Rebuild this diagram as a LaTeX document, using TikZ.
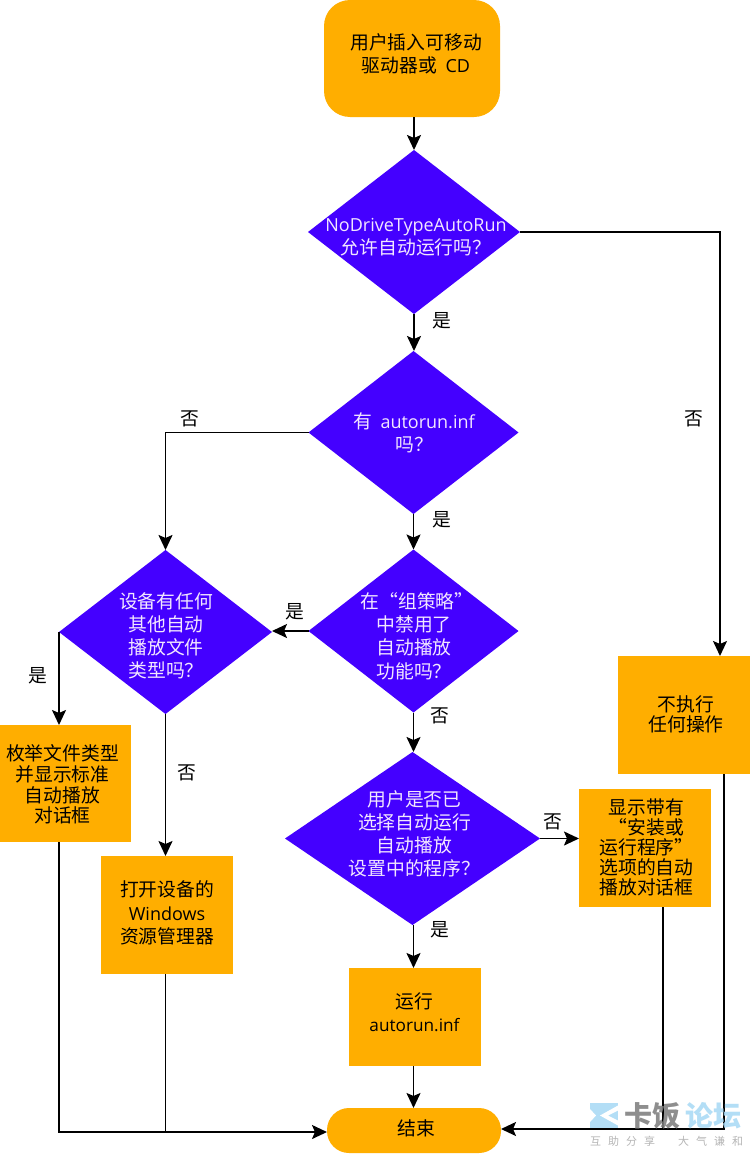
\documentclass[tikz,border=0pt]{standalone}
\usepackage{fontspec}
\usetikzlibrary{shapes.geometric,arrows.meta}
\setmainfont{Open Sans}
\newfontfamily\cjk{Noto Sans CJK SC}
\definecolor{boxorange}{HTML}{FFAE00}
\definecolor{decisionblue}{HTML}{4400FF}
\definecolor{decisiontext}{HTML}{F2E6FF}
\definecolor{markblue}{HTML}{A9DAF5}
\definecolor{markgray}{HTML}{7F7F7F}
\tikzset{
  base/.style={inner sep=0pt,outer sep=0pt,align=center,text=black},
  act/.style={base,rectangle,fill=boxorange,minimum width=132pt},
  term/.style={base,rectangle,fill=boxorange},
  choice/.style={base,diamond,fill=decisionblue},
  choicetext/.style={base,text=decisiontext},
  flow/.style={line width=1.8pt,draw=black,-{Stealth[length=15pt,width=14pt,inset=3pt]}},
  plain/.style={line width=1.8pt,draw=black},
  tag/.style={inner sep=0pt,font=\cjk\fontsize{18.8}{20}\selectfont},
  l23/.style={font=\cjk\fontsize{18.8}{23.2}\selectfont},
  l21/.style={font=\cjk\fontsize{18.8}{20.8}\selectfont},
  l20/.style={font=\cjk\fontsize{18.8}{20}\selectfont},
  motto/.style={inner sep=0pt,anchor=west,text=markgray!65,font=\cjk\fontsize{11}{12}\selectfont},
  brand/.style={inner sep=0pt,anchor=west,font=\cjk\bfseries\fontsize{28}{30}\selectfont},
}
\newcommand{\latin}[2][18]{{\fontspec{Open Sans}\fontsize{#1}{23.2}\selectfont #2}}
\begin{document}
\begin{tikzpicture}[x=1pt,y=-1pt]
\useasboundingbox (0,0) rectangle (750,1154);
\fill[white] (0,0) rectangle (750,1154);

% terminators
\node[term,rounded corners=26pt,minimum width=176pt,minimum height=117pt] (start) at (412,58.5) {};
\node[base,l23] (starttext) at (416,53.5) {用户插入可移动\\驱动器或\ \ \latin{CD}};
\node[term,rounded corners=22pt,minimum width=174pt,minimum height=45pt] (finish) at (414,1130.5) {};
\node[base,l23] (finishtext) at (416,1128) {结束};

% decisions: each caption sits on its shape without widening it
\node[choice,minimum width=212pt,minimum height=164pt] (allow) at (414,232) {};
\node[choicetext,l23] (allowtext) at (416,237.5) {\latin{NoDriveTypeAutoRun}\\允许自动运行吗？};
\node[choice,minimum width=210pt,minimum height=163pt] (inf) at (413.5,432.5) {};
\node[choicetext,l23] (inftext) at (414,433) {有\ \ \latin{autorun.inf}\\吗？};
\node[choice,minimum width=210pt,minimum height=163pt] (policy) at (413.5,631) {};
\node[choicetext,l23] (policytext) at (414,636) {\hspace{6pt}在“组策略”\\中禁用了\\自动播放\\功能吗？};
\node[choice,minimum width=213pt,minimum height=164pt] (other) at (165.5,632) {};
\node[choicetext,l23] (othertext) at (166,636) {设备有任何\\其他自动\\播放文件\\类型吗？};
\node[choice,minimum width=255pt,minimum height=173pt] (chosen) at (412.5,838.5) {};
\node[choicetext,l23] (chosentext) at (414.5,834) {用户是否已\\选择自动运行\\自动播放\\设置中的程序？};

% actions
\node[act,minimum height=118pt] (nothing) at (684,715) {};
\node[base,l20] (nothingtext) at (686,714.5) {不执行\\任何操作};
\node[act,minimum width=131pt,minimum height=117pt] (enum) at (65.5,783.5) {};
\node[base,l21] (enumtext) at (62.5,784.5) {枚举文件类型\\并显示标准\\自动播放\\对话框};
\node[act,minimum height=118pt] (explorer) at (167,915) {};
\node[base,l23] (explorertext) at (167,913) {打开设备的\\\latin{Windows}\\资源管理器};
\node[act,minimum height=98pt] (run) at (415,1017) {};
\node[base,l23] (runtext) at (414.5,1012) {运行\\\latin[17.2]{autorun.inf}};
\node[act,minimum height=118pt] (install) at (645,848) {};
\node[base,l20] (installtext) at (646.5,847) {显示带有\\“安装或\\运行程序”\\选项的自动\\播放对话框};

% connectors
\draw[flow] (start.south -| allow.north) -- (allow.north);
\draw[flow] (allow.south) -- (inf.north -| allow.south);
\draw[flow] (allow.east) -| ([xshift=36pt]nothing.north);
\draw[flow] (inf.west) -| (other.north);
\draw[flow] (inf.south) -- (policy.north);
\draw[flow] (policy.west) -- (policy.west -| other.east);
\draw[flow] (policy.south) -- (chosen.north -| policy.south);
\draw[flow] (other.west) -- (enum.north -| other.west);
\draw[flow] (other.south) -- (explorer.north -| other.south);
\draw[flow] (chosen.east) -- (chosen.east -| install.west);
\draw[flow] (chosen.south -| inf.south) -- (run.north -| inf.south);
\draw[flow] (run.south -| inf.south) -- (finish.north -| inf.south);
\draw[flow] ([xshift=-6.5pt]enum.south) |- ([yshift=-1.5pt]finish.west);
\draw[plain] (explorer.south -| other.south) -- ([yshift=-1.5pt]finish.west -| other.south);
\draw[flow] ([xshift=18pt]install.south) |- ([yshift=1.5pt]finish.east);
\draw[plain] ([xshift=40pt]nothing.south) |- ([xshift=18pt,yshift=1.5pt]install.south |- finish.east);

% branch labels
\node[tag] (yes1) at (442,321) {是};
\node[tag] (no1) at (694,419) {否};
\node[tag] (no2) at (190,419) {否};
\node[tag] (yes2) at (442,520) {是};
\node[tag] (yes3) at (295,612) {是};
\node[tag] (no3) at (440,716) {否};
\node[tag] (yes4) at (38,676) {是};
\node[tag] (no4) at (187,773) {否};
\node[tag] (no5) at (553,822) {否};
\node[tag] (yes5) at (440,930) {是};

% forum mark in the lower right corner
\begin{scope}[opacity=.88]
  \fill[markblue] (590,1103) rectangle (618,1128);
\end{scope}
\fill[white] (618,1105.5) -- (600,1115.5) -- (618,1125.5) -- (618,1120.5) -- (608,1115.5) -- (618,1110.5) -- cycle;
\fill[white] (590,1109) -- (596,1115.5) -- (590,1122) -- cycle;
\begin{scope}[opacity=.88]
  \node[brand,text=markgray] (markdark) at (624,1116) {卡饭};
  \node[brand,text=markblue] (marklight) at (685,1116) {论坛};
  \node[motto] (motto1) at (590,1141) {互\hspace{7pt}助\hspace{7pt}分\hspace{7pt}享};
  \node[motto] (motto2) at (678,1141) {大\hspace{7pt}气\hspace{7pt}谦\hspace{7pt}和};
\end{scope}
\end{tikzpicture}
\end{document}
